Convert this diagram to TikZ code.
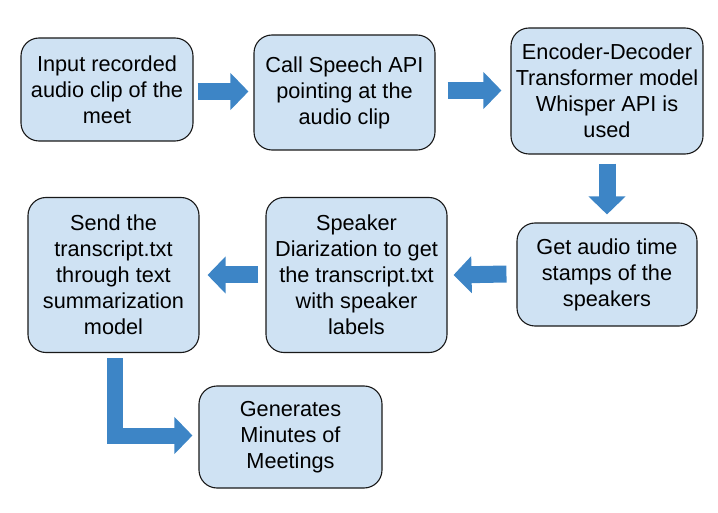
\documentclass[tikz,border=0pt]{standalone}
\usepackage{fontspec}
\setmainfont{Liberation Sans}
\usetikzlibrary{arrows.meta}
\definecolor{boxfill}{HTML}{CFE2F3}
\definecolor{arrowc}{HTML}{3D85C6}
\begin{document}
\begin{tikzpicture}[x=1pt,y=-1pt,
  box/.style={draw=black!90,line width=1.1pt,fill=boxfill,rounded corners=18pt,
    align=center,inner sep=0pt,font=\fontsize{21.7}{26}\selectfont},
  fat/.style={draw=arrowc,line width=17pt,line join=miter,
    -{Triangle[length=18pt,width=36pt]}}]
\useasboundingbox (0,0) rectangle (718,513);
\node[box,minimum width=172pt,minimum height=103pt] (b1) at (107,89.5)
  {Input recorded\\audio clip of the\\meet};
\node[box,minimum width=181pt,minimum height=115pt] (b2) at (344.5,92.5)
  {Call Speech API\\pointing at the\\audio clip};
\node[box,minimum width=192pt,minimum height=126pt] (b3) at (607,91)
  {Encoder-Decoder\\Transformer model\\Whisper API is\\used};
\node[box,minimum width=180pt,minimum height=103pt] (b4) at (607,274.5)
  {Get audio time\\stamps of the\\speakers};
\node[box,minimum width=181pt,minimum height=155pt] (b5) at (356.5,275)
  {Speaker\\Diarization to get\\the transcript.txt\\with speaker\\labels};
\node[box,minimum width=171pt,minimum height=155pt] (b6) at (113.5,275)
  {Send the\\transcript.txt\\through text\\summarization\\model};
\node[box,minimum width=183pt,minimum height=102pt] (b7) at (290.5,437)
  {Generates\\Minutes of\\Meetings};
\draw[fat] ([xshift=4pt,yshift=-2pt]b1.east) -- ([xshift=-5pt,yshift=1pt]b2.west);
\draw[fat] ([xshift=12pt,yshift=2pt]b2.east) -- ([xshift=-9pt,yshift=0.5pt]b3.west);
\draw[fat] ([yshift=-9pt]b3.south) -- ([yshift=8pt]b4.north);
\draw[fat] ([xshift=-10pt,yshift=0.5pt]b4.west) -- ([xshift=6pt]b5.east);
\draw[fat] ([xshift=-7pt]b5.west) -- ([xshift=8pt]b6.east);
\draw[fat,line width=16pt] ([xshift=1.5pt,yshift=-5pt]b6.south) |- ([xshift=-6pt,yshift=1.5pt]b7.west);
\end{tikzpicture}
\end{document}
